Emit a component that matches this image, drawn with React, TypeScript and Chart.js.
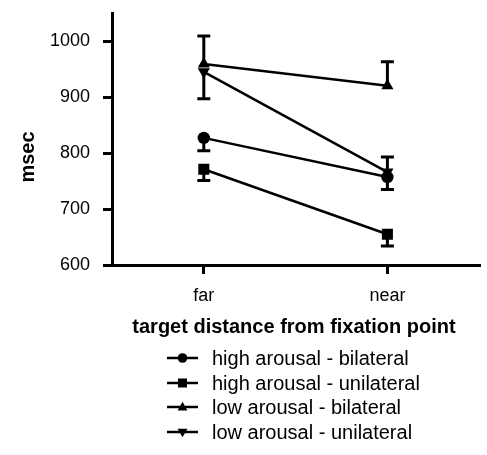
import React, { useEffect, useRef } from 'react';
import { Chart, registerables } from 'chart.js';

Chart.register(...registerables);

// Reaction times (msec) by target distance
const categories = ['far', 'near'];
const yTickValues = [600, 700, 800, 900, 1000];

const highBilateral = [827, 757];
const highUnilateral = [771, 655];
const lowBilateral = [959, 920];
const lowUnilateral = [945, 766];

// End value of each error bar (one-sided, as plotted)
const highBilateralErr = [804, 735];
const highUnilateralErr = [751, 634];
const lowBilateralErr = [1009, 963];
const lowUnilateralErr = [897, 793];

const seriesNames = [
  'high arousal - bilateral',
  'high arousal - unilateral',
  'low arousal - bilateral',
  'low arousal - unilateral',
];

const FONT = '"Liberation Sans", Arial, Helvetica, sans-serif';

type Marker = 'circle' | 'square' | 'triUp' | 'triDown';
const markers: Marker[] = ['circle', 'square', 'triUp', 'triDown'];

function drawMarker(ctx: CanvasRenderingContext2D, kind: Marker, x: number, y: number, s: number) {
  ctx.beginPath();
  if (kind === 'circle') {
    ctx.arc(x, y, s, 0, Math.PI * 2);
  } else if (kind === 'square') {
    ctx.rect(x - s, y - s, 2 * s, 2 * s);
  } else if (kind === 'triUp') {
    ctx.moveTo(x, y - s * 1.15);
    ctx.lineTo(x + s * 1.1, y + s * 0.75);
    ctx.lineTo(x - s * 1.1, y + s * 0.75);
    ctx.closePath();
  } else {
    ctx.moveTo(x, y + s * 1.15);
    ctx.lineTo(x + s * 1.1, y - s * 0.75);
    ctx.lineTo(x - s * 1.1, y - s * 0.75);
    ctx.closePath();
  }
  ctx.fill();
}

const errorBars = {
  id: 'errorBars',
  afterDatasetsDraw(chart: any) {
    const ctx = chart.ctx;
    const yScale = chart.scales.y;
    ctx.save();
    ctx.strokeStyle = '#000';
    ctx.lineWidth = 3;
    chart.data.datasets.forEach((ds: any, di: number) => {
      const meta = chart.getDatasetMeta(di);
      meta.data.forEach((pt: any, i: number) => {
        const end = ds.errEnd?.[i];
        if (end == null) return;
        const y2 = yScale.getPixelForValue(end);
        ctx.beginPath();
        ctx.moveTo(pt.x, pt.y);
        ctx.lineTo(pt.x, y2);
        ctx.moveTo(pt.x - 6.5, y2);
        ctx.lineTo(pt.x + 6.5, y2);
        ctx.stroke();
      });
    });
    ctx.restore();
  },
};

const decorations = {
  id: 'decorations',
  afterDraw(chart: any) {
    const ctx = chart.ctx;
    ctx.save();
    ctx.fillStyle = '#000';
    ctx.strokeStyle = '#000';

    // axis titles
    ctx.font = `bold 20px ${FONT}`;
    ctx.textAlign = 'center';
    ctx.textBaseline = 'middle';
    ctx.fillText('target distance from fixation point', 294, 327);

    ctx.save();
    ctx.translate(28, 157);
    ctx.rotate(-Math.PI / 2);
    ctx.fillText('msec', 0, 0);
    ctx.restore();

    // legend: line sample with marker, then label
    const rows = [358, 383, 407, 432];
    ctx.font = `20px ${FONT}`;
    ctx.textAlign = 'left';
    seriesNames.forEach((name, i) => {
      const y = rows[i];
      ctx.lineWidth = 2.5;
      ctx.beginPath();
      ctx.moveTo(167, y);
      ctx.lineTo(198, y);
      ctx.stroke();
      drawMarker(ctx, markers[i], 182.5, y, markers[i] === 'circle' ? 4.8 : 4.5);
      ctx.fillText(name, 212, y + 1);
    });
    ctx.restore();
  },
};

export default function App() {
  const canvasRef = useRef<HTMLCanvasElement | null>(null);

  useEffect(() => {
    document.body.style.margin = '0';
    const canvas = canvasRef.current;
    if (!canvas) return;

    const mk = (label: string, data: number[], errEnd: number[], style: string, radius: number, rotation = 0) => ({
      label,
      data,
      errEnd,
      borderColor: '#000',
      backgroundColor: '#000',
      borderWidth: 2.5,
      pointStyle: style,
      pointRadius: radius,
      pointRotation: rotation,
      pointBorderWidth: 0,
      pointBackgroundColor: '#000',
      fill: false,
      tension: 0,
    });

    const chart = new Chart(canvas, {
      type: 'line',
      data: {
        labels: categories,
        datasets: [
          mk(seriesNames[0], highBilateral, highBilateralErr, 'circle', 6.2),
          mk(seriesNames[1], highUnilateral, highUnilateralErr, 'rect', 7.8),
          mk(seriesNames[2], lowBilateral, lowBilateralErr, 'triangle', 7),
          mk(seriesNames[3], lowUnilateral, lowUnilateralErr, 'triangle', 7, 180),
        ] as any,
      },
      options: {
        animation: false,
        responsive: false,
        layout: { padding: { top: 13, right: 0, left: 0, bottom: 0 } },
        plugins: {
          legend: { display: false },
          tooltip: { enabled: false },
          title: { display: false },
        },
        scales: {
          x: {
            type: 'category',
            offset: true,
            grid: {
              display: true,
              drawOnChartArea: false,
              drawTicks: true,
              tickLength: 9,
              lineWidth: 3,
              color: '#000',
              offset: false,
            },
            border: { display: true, color: '#000', width: 3 },
            ticks: {
              color: '#000',
              font: { family: FONT, size: 18 },
              padding: 11,
              maxRotation: 0,
            },
            afterFit(scale: any) {
              scale.height = 190;
              scale.paddingLeft = 0;
              scale.paddingRight = 0;
            },
          },
          y: {
            type: 'linear',
            min: 600,
            max: 1050,
            grid: {
              display: true,
              drawOnChartArea: false,
              drawTicks: true,
              tickLength: 9,
              lineWidth: 3,
              color: '#000',
            },
            border: { display: true, color: '#000', width: 3 },
            ticks: {
              color: '#000',
              font: { family: FONT, size: 18 },
              padding: 13,
              callback: (v: any) => String(v),
            },
            afterBuildTicks(scale: any) {
              scale.ticks = yTickValues.map((v) => ({ value: v }));
            },
            afterFit(scale: any) {
              scale.width = 112;
              scale.paddingTop = 0;
              scale.paddingBottom = 0;
            },
          },
        },
      },
      plugins: [errorBars, decorations],
    });

    return () => chart.destroy();
  }, []);

  return <canvas ref={canvasRef} width={487} height={455} />;
}
